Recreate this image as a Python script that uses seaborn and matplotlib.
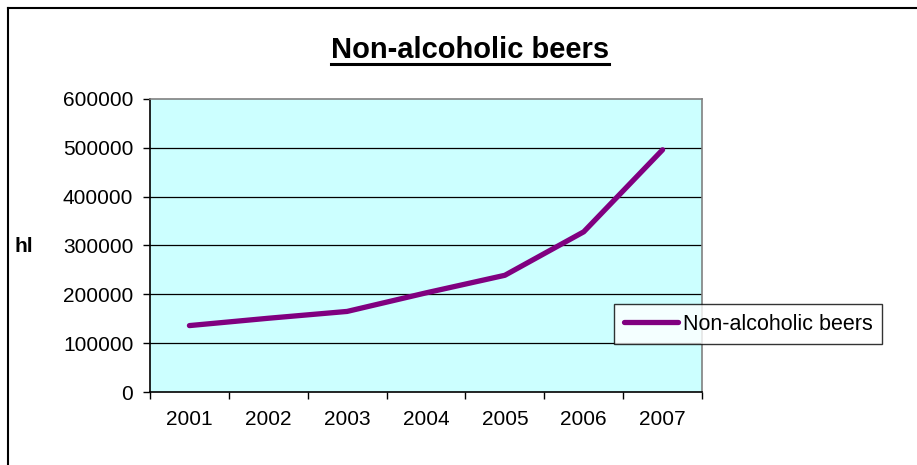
import matplotlib
matplotlib.use("Agg")
import matplotlib.pyplot as plt
from matplotlib.lines import Line2D
import seaborn as sns
import pandas as pd
import numpy as np

years = ["2001", "2002", "2003", "2004", "2005", "2006", "2007"]
values = [136000, 151000, 165000, 203000, 239000, 328000, 496000]
series_name = "Non-alcoholic beers"
title = "Non-alcoholic beers"
ylabel = "hl"
yticks = [0, 100000, 200000, 300000, 400000, 500000, 600000]

plt.rcParams["font.family"] = ["Liberation Sans", "DejaVu Sans"]

W, H = 917, 465
fig = plt.figure(figsize=(W / 100, H / 100), dpi=100)
fig.patch.set_facecolor("white")

ax = fig.add_axes([150 / W, 1 - 392 / H, 552 / W, 293 / H])
ax.set_facecolor("#CCFFFF")

df = pd.DataFrame({"year": years, "value": values, "series": series_name})
df["pos"] = np.arange(len(years))
sns.lineplot(data=df, x="pos", y="value", hue="series", palette=["#800080"],
             linewidth=3.8, ax=ax, legend=False, solid_capstyle="round")

ax.set_xlim(-0.5, len(years) - 0.5)
ax.set_ylim(yticks[0], yticks[-1])
ax.set_xticks(np.arange(len(years)))
ax.set_xticklabels(years)
ax.set_xticks(np.arange(len(years) + 1) - 0.5, minor=True)
ax.set_yticks(yticks)
ax.set_yticklabels([str(v) for v in yticks])
ax.tick_params(axis="x", which="major", length=0, pad=13, labelsize=15)
ax.tick_params(axis="x", which="minor", length=5, width=1, direction="out", color="black")
ax.tick_params(axis="y", which="major", length=5, width=1, direction="out", pad=7, labelsize=15, color="black")
ax.set_xlabel("")
ax.set_ylabel("")

for y in yticks[1:-1]:
    ax.axhline(y, color="black", linewidth=0.9, zorder=1)

ax.spines["left"].set_color("black")
ax.spines["bottom"].set_color("black")
ax.spines["top"].set_color("#808080")
ax.spines["right"].set_color("#808080")
for s in ax.spines.values():
    s.set_linewidth(1.2)

# legend
handle = [Line2D([0], [0], color="#800080", linewidth=3.8, solid_capstyle="round")]
leg = fig.legend(handle, [series_name], loc="upper left",
                 bbox_to_anchor=(614 / W, 1 - 304 / H), fontsize=15.5,
                 frameon=True, fancybox=False, shadow=False, borderaxespad=0,
                 handlelength=2.5, handletextpad=0.25, borderpad=0.45)
leg.get_frame().set_edgecolor("black")
leg.get_frame().set_linewidth(1.0)

# y label
fig.text(15 / W, 1 - 246 / H, ylabel, fontsize=15, fontweight="bold", ha="left", va="center")

# title with underline
ty = 1 - 58 / H
t = fig.text(470 / W, ty, title, fontsize=21, fontweight="bold", ha="center", va="baseline")
fig.canvas.draw()
bb = t.get_window_extent(renderer=fig.canvas.get_renderer())
x0, x1 = bb.x0 / W, bb.x1 / W
fig.add_artist(Line2D([x0, x1], [ty - 6 / H, ty - 6 / H], transform=fig.transFigure,
                      color="black", linewidth=2.2))

# outer border (top and left)
bx, by = 8 / W, 1 - 8 / H
fig.add_artist(Line2D([bx, bx], [0, by], transform=fig.transFigure, color="black", linewidth=1.5))
fig.add_artist(Line2D([bx, 1], [by, by], transform=fig.transFigure, color="black", linewidth=1.5))

fig.savefig("out.png", dpi=100)
